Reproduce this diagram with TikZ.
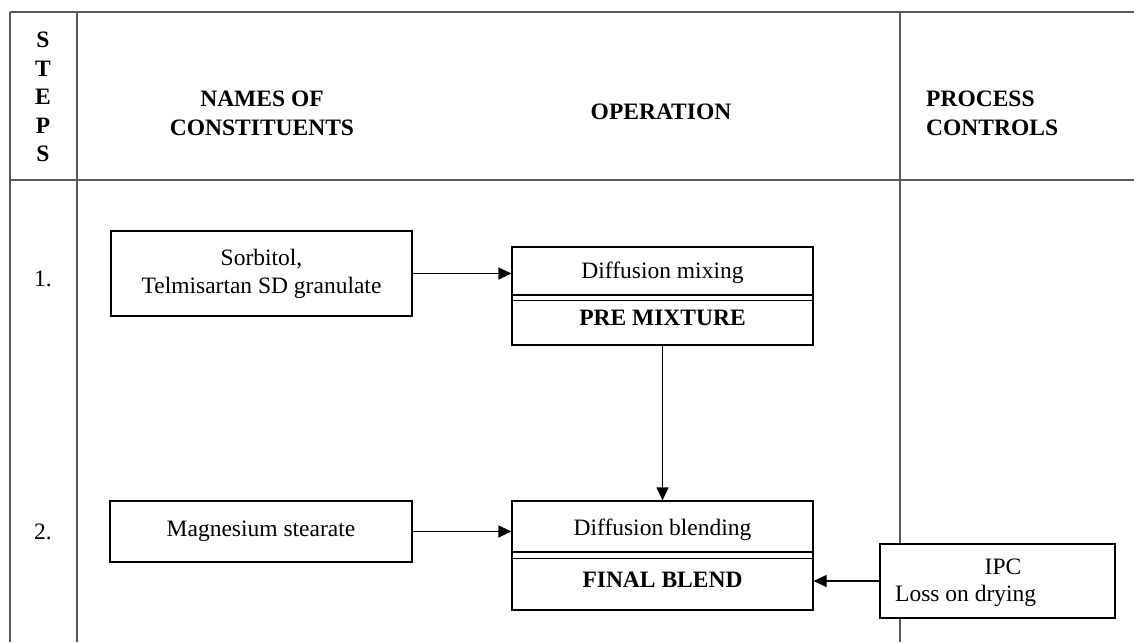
\documentclass[tikz,border=0pt]{standalone}
\usepackage{fontspec}
\setmainfont{Liberation Serif}
\usetikzlibrary{arrows.meta}
\begin{document}
\begin{tikzpicture}[x=1pt,y=-1pt,
  grid/.style={draw=black!65,line width=1.5pt},
  procbox/.style={draw=black,line width=1.2pt,fill=white,rectangle,inner sep=0pt},
  txt/.style={inner sep=0pt,font=\fontsize{23.5}{28}\selectfont},
  head/.style={txt,font=\fontsize{23.5}{29}\selectfont\bfseries},
  flow/.style={draw=black,line width=1.2pt,-{Triangle[length=13pt,width=12pt]}}]
\useasboundingbox (0,0) rectangle (1134,642);
\fill[white] (0,0) rectangle (1134,642);

% table grid
\coordinate (tl) at (10,12);
\coordinate (tr) at (1134,12);
\coordinate (hl) at (10,180);
\coordinate (hr) at (1134,180);
\draw[grid] (tl) -- (tr);
\draw[grid] (hl) -- (hr);
\draw[grid] (10,12) -- (10,642);
\draw[grid] (77,12) -- (77,642);
\draw[grid] (900,12) -- (900,642);

% header
\node[head,align=center,font=\fontsize{23.5}{28.5}\selectfont\bfseries] (steps) at (43,97) {S\\T\\E\\P\\S};
\node[head,align=center] (names) at (262,113) {NAMES OF\\CONSTITUENTS};
\node[head] (oper) at (661,112) {OPERATION};
\node[head,align=left,anchor=west] (ctrl) at (926,113) {PROCESS\\CONTROLS};

% step numbers
\node[txt] (s1) at (43,279) {1.};
\node[txt] (s2) at (43,532) {2.};

% boxes
\node[procbox,minimum width=301pt,minimum height=85pt,align=center,txt] (sorb) at (261.5,273.5) {Sorbitol,\\Telmisartan SD granulate};
\node[procbox,minimum width=302pt,minimum height=61pt,txt] (mag) at (261,531.5) {Magnesium stearate};
\node[procbox,minimum width=301pt,minimum height=98pt] (mix) at (662.5,296) {};
\node[procbox,minimum width=301pt,minimum height=109pt] (blend) at (662.5,555.5) {};
\node[procbox,minimum width=235pt,minimum height=74pt] (ipc) at (997.5,581) {};

% separators inside operation boxes
\coordinate (ma) at (0,295);
\coordinate (mb) at (0,300.5);
\coordinate (ba) at (0,552);
\coordinate (bb) at (0,558.5);
\draw[line width=1.2pt] (mix.west |- ma) -- (mix.east |- ma);
\draw[line width=1.2pt] (mix.west |- mb) -- (mix.east |- mb);
\draw[line width=1.2pt] (blend.west |- ba) -- (blend.east |- ba);
\draw[line width=1.2pt] (blend.west |- bb) -- (blend.east |- bb);

% box texts
\node[txt] (mixt) at (662.5,273) {Diffusion mixing};
\node[txt,font=\fontsize{23.5}{28}\selectfont\bfseries] (pre) at (662.5,318) {PRE MIXTURE};
\node[txt] (blendt) at (662.5,530) {Diffusion blending};
\node[txt,font=\fontsize{23.5}{28}\selectfont\bfseries] (fin) at (662.5,580) {FINAL BLEND};
\node[txt] (ipct) at (1003,567) {IPC};
\node[txt,anchor=west] (lod) at (895,596) {Loss on drying};

% connectors
\draw[flow] (sorb.east) -- (sorb.east -| mix.west);
\draw[flow] (mix.south) -- (blend.north);
\draw[flow] (mag.east) -- (mag.east -| blend.west);
\draw[flow] (ipc.west) -- (ipc.west -| blend.east);
\end{tikzpicture}
\end{document}
